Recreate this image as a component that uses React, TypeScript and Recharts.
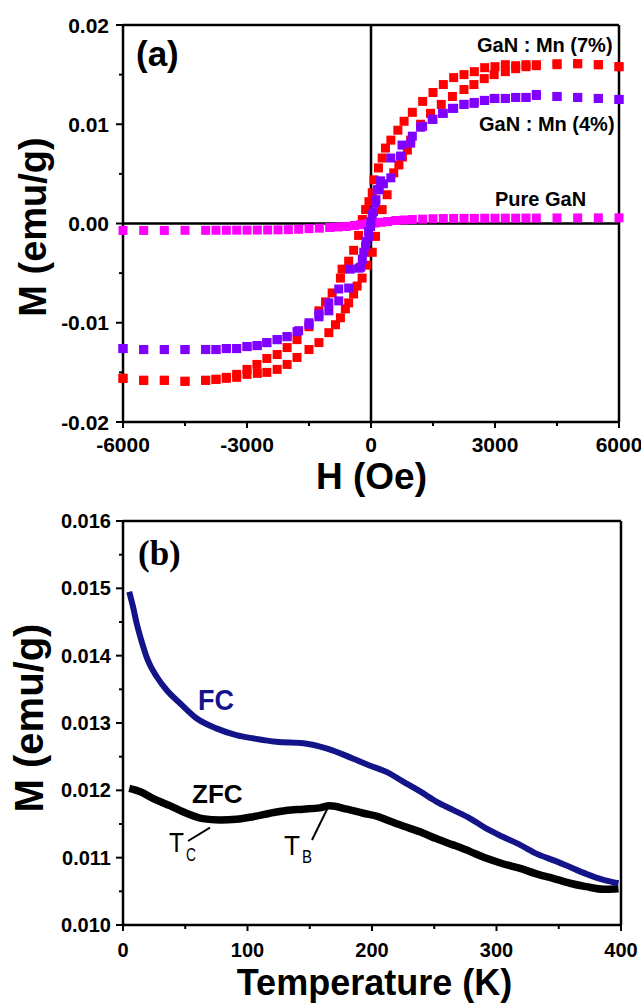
import React from 'react';
import { ScatterChart, Scatter, XAxis, YAxis, ReferenceLine, LineChart, Line } from 'recharts';

// ---------- Panel (a): M-H loops ----------
const redDescH = [6000, 5500, 5000, 4500, 4000, 3750, 3500, 3250, 3000, 2750, 2500, 2250, 2000, 1750, 1500, 1250, 1000, 800, 650, 480, 350, 270, 180, 70, 30, -50, -130, -210, -300, -420, -540, -700, -740, -940, -1100, -1260, -1500, -1790, -2030, -2270, -2520, -2760, -3000, -3250, -3500, -3750, -4000, -4500, -5000, -5500, -6000];
const redDescM = [0.0158, 0.016, 0.0161, 0.0161, 0.016, 0.016, 0.0159, 0.016, 0.0158, 0.0157, 0.0153, 0.015, 0.0147, 0.014, 0.0132, 0.0123, 0.0112, 0.0103, 0.0094, 0.0084, 0.0076, 0.0066, 0.0056, 0.0044, 0.0031, 0.0022, 0.0014, 0.0004, -0.0012, -0.0027, -0.0038, -0.0046, -0.0055, -0.007, -0.0079, -0.0088, -0.0104, -0.0117, -0.0125, -0.0132, -0.0136, -0.0142, -0.0147, -0.0152, -0.0155, -0.0157, -0.0158, -0.0159, -0.0158, -0.0158, -0.0156];
const redAscH = [-6000, -5500, -5000, -4500, -4000, -3750, -3500, -3250, -3000, -2750, -2520, -2270, -2030, -1790, -1500, -1260, -1020, -860, -740, -620, -540, -420, -335, -215, -100, 30, 110, 270, 390, 550, 675, 760, 880, 960, 1200, 1440, 1700, 1970, 2250, 2490, 2740, 2980, 3250, 3500, 3750, 4000, 4500, 5000, 5500, 6000];
const redAscM = [-0.0156, -0.0158, -0.0158, -0.0159, -0.0158, -0.0157, -0.0156, -0.0155, -0.0152, -0.0151, -0.015, -0.0147, -0.0142, -0.0135, -0.0127, -0.012, -0.011, -0.0102, -0.0095, -0.0086, -0.008, -0.0071, -0.0063, -0.0055, -0.0042, -0.0029, -0.0013, 0.0014, 0.0029, 0.0051, 0.0059, 0.0067, 0.0074, 0.0084, 0.01, 0.0111, 0.012, 0.0128, 0.0135, 0.014, 0.0146, 0.015, 0.0153, 0.0156, 0.0158, 0.0159, 0.016, 0.0161, 0.016, 0.0158];

const purDescH = [6000, 5500, 5000, 4500, 4000, 3750, 3500, 3250, 3000, 2750, 2500, 2250, 2000, 1750, 1500, 1250, 1000, 750, 480, 230, 150, 110, 30, -10, -50, -130, -210, -290, -500, -780, -1020, -1260, -1500, -1750, -2030, -2270, -2520, -2760, -3000, -3250, -3500, -3750, -4000, -4500, -5000, -5500, -6000];
const purDescM = [0.0125, 0.0126, 0.0127, 0.0128, 0.013, 0.0127, 0.0127, 0.0126, 0.0126, 0.0124, 0.0122, 0.012, 0.0116, 0.0111, 0.0105, 0.0098, 0.0088, 0.0079, 0.0066, 0.0043, 0.0034, 0.0021, 0.0009, -0.0003, -0.0013, -0.0023, -0.0036, -0.0045, -0.0046, -0.0066, -0.008, -0.0091, -0.01, -0.0108, -0.0114, -0.0117, -0.012, -0.0123, -0.0124, -0.0126, -0.0126, -0.0127, -0.0127, -0.0127, -0.0127, -0.0127, -0.0126];
const purAscH = [-6000, -5500, -5000, -4500, -4000, -3750, -3500, -3250, -3000, -2750, -2520, -2270, -2030, -1790, -1500, -1260, -1020, -780, -540, -250, -175, -120, -60, 0, 60, 120, 200, 300, 480, 715, 960, 1200, 1480, 1730, 1970, 2250, 2490, 2740, 2980, 3250, 3500, 3750, 4000, 4500, 5000, 5500, 6000];
const purAscM = [-0.0126, -0.0127, -0.0127, -0.0127, -0.0127, -0.0127, -0.0126, -0.0126, -0.0124, -0.0123, -0.012, -0.0117, -0.0114, -0.0109, -0.0102, -0.0094, -0.0088, -0.0078, -0.0065, -0.0044, -0.0029, -0.0018, -0.0008, 0.0002, 0.0012, 0.0024, 0.0034, 0.004, 0.0046, 0.0068, 0.0081, 0.0097, 0.0105, 0.0111, 0.0116, 0.012, 0.0121, 0.0124, 0.0126, 0.0126, 0.0127, 0.0127, 0.0129, 0.0128, 0.0127, 0.0126, 0.0125];

const pureH = [-6000, -5500, -5000, -4500, -4000, -3750, -3500, -3250, -3000, -2750, -2500, -2250, -2000, -1750, -1500, -1250, -1000, -800, -600, -400, -250, -100, 0, 100, 250, 400, 600, 800, 1000, 1250, 1500, 1750, 2000, 2250, 2500, 2750, 3000, 3250, 3500, 3750, 4000, 4500, 5000, 5500, 6000];
const pureM = [-0.0007, -0.0007, -0.0007, -0.00069, -0.00069, -0.00068, -0.00068, -0.00067, -0.00067, -0.00066, -0.00065, -0.00064, -0.00062, -0.00058, -0.00052, -0.00047, -0.0004, -0.00035, -0.0003, -0.0002, -0.00012, -0.00005, 0, 0.00005, 0.00012, 0.0002, 0.0003, 0.00035, 0.0004, 0.00044, 0.00048, 0.0005, 0.00051, 0.00052, 0.00052, 0.00053, 0.00053, 0.00054, 0.00054, 0.00055, 0.00055, 0.00056, 0.00056, 0.00057, 0.00057];

const aXTicks = [-6000, -4500, -3000, -1500, 0, 1500, 3000, 4500, 6000];
const aXMajor = [-6000, -3000, 0, 3000, 6000];
const aXLabels = ['-6000', '-3000', '0', '3000', '6000'];
const aYTicks = [-0.02, -0.015, -0.01, -0.005, 0, 0.005, 0.01, 0.015, 0.02];
const aYMajor = [-0.02, -0.01, 0, 0.01, 0.02];
const aYLabels = ['-0.02', '-0.01', '0.00', '0.01', '0.02'];

// ---------- Panel (b): FC / ZFC ----------
const fcT = [5, 8, 11, 15, 20, 27, 35, 46, 59, 75, 91, 105, 123, 145, 164, 185, 198, 212, 225, 239, 252, 265, 279, 292, 305, 319, 332, 346, 359, 372, 386, 398];
const fcM = [0.01495, 0.01473, 0.01448, 0.01421, 0.01393, 0.01369, 0.01349, 0.01329, 0.01307, 0.01292, 0.01282, 0.01277, 0.01272, 0.0127, 0.01262, 0.01247, 0.01237, 0.01227, 0.01213, 0.01198, 0.01183, 0.01171, 0.01158, 0.01143, 0.01131, 0.01119, 0.01106, 0.01096, 0.01086, 0.01076, 0.01067, 0.01062];
const zfcT = [5, 14, 24, 38, 51, 64, 78, 91, 105, 118, 131, 145, 158, 166, 180, 193, 205, 212, 225, 239, 252, 265, 279, 292, 305, 319, 332, 346, 359, 372, 386, 398];
const zfcM = [0.01203, 0.01198, 0.01188, 0.01177, 0.01166, 0.01158, 0.01156, 0.01157, 0.01161, 0.01166, 0.0117, 0.01172, 0.01174, 0.01177, 0.01172, 0.01166, 0.01161, 0.01156, 0.01147, 0.01138, 0.01128, 0.01119, 0.01109, 0.01099, 0.01091, 0.01084, 0.01076, 0.01069, 0.01062, 0.01057, 0.01053, 0.01054];

const bXTicks = [0, 50, 100, 150, 200, 250, 300, 350, 400];
const bXMajor = [0, 100, 200, 300, 400];
const bXLabels = ['0', '100', '200', '300', '400'];
const bYTicks = [0.01, 0.0105, 0.011, 0.0115, 0.012, 0.0125, 0.013, 0.0135, 0.014, 0.0145, 0.015, 0.0155, 0.016];
const bYMajor = [0.01, 0.011, 0.012, 0.013, 0.014, 0.015, 0.016];
const bYLabels = ['0.010', '0.011', '0.012', '0.013', '0.014', '0.015', '0.016'];

const FONT = '"Liberation Sans", Arial, sans-serif';
const FC_COLOR = '#14148a';

const pts = (h: number[], m: number[]) => h.map((H, i) => ({ H, M: m[i] }));
const tpts = (t: number[], m: number[]) => t.map((T, i) => ({ T, M: m[i] }));

const findIdx = (arr: number[], v: number) => arr.findIndex((a) => Math.abs(a - v) < 1e-9);

const makeXTick = (majors: number[], labels: string[], dy: number, fs: number) => (props: any) => {
  const { x, y, payload } = props;
  const i = findIdx(majors, payload.value);
  const major = i >= 0;
  return (
    <g>
      <line x1={x} x2={x} y1={y} y2={y + (major ? 6 : 4)} stroke="#000" strokeWidth={2} />
      {major && (
        <text x={x} y={y + dy} textAnchor="middle" fontSize={fs} fontWeight="bold" fontFamily={FONT} fill="#000">
          {labels[i]}
        </text>
      )}
    </g>
  );
};

const makeYTick = (majors: number[], labels: string[], gap: number, dy: number, fs: number) => (props: any) => {
  const { x, y, payload } = props;
  const i = findIdx(majors, payload.value);
  const major = i >= 0;
  return (
    <g>
      <line x1={x - (major ? 7 : 4)} x2={x} y1={y} y2={y} stroke="#000" strokeWidth={2} />
      {major && (
        <text x={x - gap} y={y + dy} textAnchor="end" fontSize={fs} fontWeight="bold" fontFamily={FONT} fill="#000">
          {labels[i]}
        </text>
      )}
    </g>
  );
};

const square = (color: string) => (p: any) => {
  if (p == null || p.cx == null || p.cy == null) return <g />;
  return <rect x={p.cx - 4.5} y={p.cy - 4.5} width={9} height={9} fill={color} />;
};

const frame = { stroke: '#000', strokeWidth: 2.5, ifOverflow: 'visible' as const };

export default function App() {
  return (
    <div style={{ position: 'absolute', left: 0, top: 0, width: 641, height: 1007, background: '#fff' }}>
      <div style={{ position: 'absolute', left: 0, top: 0 }}>
        <ScatterChart width={641} height={500} margin={{ top: 25, right: 22, bottom: 0, left: 0 }}>
          <XAxis
            type="number"
            dataKey="H"
            domain={[-6000, 6000]}
            ticks={aXTicks}
            interval={0}
            height={78}
            axisLine={false}
            tickLine={false}
            tickSize={0}
            tickMargin={0}
            tick={makeXTick(aXMajor, aXLabels, 30, 21)}
          />
          <YAxis
            type="number"
            dataKey="M"
            domain={[-0.02, 0.02]}
            ticks={aYTicks}
            interval={0}
            width={123}
            axisLine={false}
            tickLine={false}
            tickSize={0}
            tickMargin={0}
            tick={makeYTick(aYMajor, aYLabels, 14, 7.5, 21)}
          />
          <ReferenceLine x={0} {...frame} />
          <ReferenceLine y={0} {...frame} />
          <Scatter data={pts(redDescH, redDescM)} shape={square('#ff0000')} isAnimationActive={false} />
          <Scatter data={pts(redAscH, redAscM)} shape={square('#ff0000')} isAnimationActive={false} />
          <Scatter data={pts(pureH, pureM)} shape={square('#ff00ff')} isAnimationActive={false} />
          <Scatter data={pts(purDescH, purDescM)} shape={square('#8000ff')} isAnimationActive={false} />
          <Scatter data={pts(purAscH, purAscM)} shape={square('#8000ff')} isAnimationActive={false} />
          <ReferenceLine x={-6000} {...frame} />
          <ReferenceLine x={6000} {...frame} />
          <ReferenceLine y={-0.02} {...frame} />
          <ReferenceLine y={0.02} {...frame} />
        </ScatterChart>
      </div>
      <div style={{ position: 'absolute', left: 0, top: 500 }}>
        <LineChart width={641} height={507} margin={{ top: 21, right: 20, bottom: 0, left: 0 }}>
          <XAxis
            type="number"
            dataKey="T"
            domain={[0, 400]}
            ticks={bXTicks}
            interval={0}
            height={82}
            axisLine={false}
            tickLine={false}
            tickSize={0}
            tickMargin={0}
            tick={makeXTick(bXMajor, bXLabels, 32, 20)}
            allowDuplicatedCategory={false}
          />
          <YAxis
            type="number"
            domain={[0.01, 0.016]}
            ticks={bYTicks}
            interval={0}
            width={123}
            axisLine={false}
            tickLine={false}
            tickSize={0}
            tickMargin={0}
            tick={makeYTick(bYMajor, bYLabels, 12, 7, 20)}
          />
          <Line data={tpts(zfcT, zfcM)} dataKey="M" stroke="#000" strokeWidth={7.5} dot={false} type="monotone" isAnimationActive={false} />
          <Line data={tpts(fcT, fcM)} dataKey="M" stroke={FC_COLOR} strokeWidth={6} dot={false} type="monotone" isAnimationActive={false} />
          <ReferenceLine x={0} {...frame} />
          <ReferenceLine x={400} {...frame} />
          <ReferenceLine y={0.01} {...frame} />
          <ReferenceLine y={0.016} {...frame} />
        </LineChart>
      </div>
      <svg
        width={641}
        height={1007}
        style={{ position: 'absolute', left: 0, top: 0, pointerEvents: 'none' }}
        fontFamily={FONT}
      >
        <text x={136} y={66} fontSize={35} fontWeight="bold" fill="#000">(a)</text>
        <text x={477} y={52} fontSize={20} fontWeight="bold" fill="#000">GaN : Mn (7%)</text>
        <text x={479} y={131} fontSize={20} fontWeight="bold" fill="#000">GaN : Mn (4%)</text>
        <text x={495} y={206} fontSize={20} fontWeight="bold" fill="#000">Pure GaN</text>
        <text x={371.5} y={489} fontSize={37} fontWeight="bold" textAnchor="middle" fill="#000">H (Oe)</text>
        <text x={45.5} y={227} fontSize={38} fontWeight="bold" textAnchor="middle" fill="#000" transform="rotate(-90 45.5 227)">M (emu/g)</text>

        <text x={138} y={565} fontSize={35} fontWeight="bold" fontFamily='"Liberation Serif", "Times New Roman", serif' fill="#000">(b)</text>
        <text x={198} y={710} fontSize={29} fontWeight="bold" textLength={36} lengthAdjust="spacingAndGlyphs" fill={FC_COLOR}>FC</text>
        <text x={192} y={803} fontSize={26} fontWeight="bold" fill="#000">ZFC</text>
        <text x={169} y={852} fontSize={28} textLength={15} lengthAdjust="spacingAndGlyphs" fill="#000">T</text>
        <text x={186} y={861} fontSize={19} textLength={10} lengthAdjust="spacingAndGlyphs" fill="#000">C</text>
        <line x1={188} y1={841} x2={210} y2={827.7} stroke="#000" strokeWidth={2} />
        <text x={284} y={855} fontSize={28} textLength={16} lengthAdjust="spacingAndGlyphs" fill="#000">T</text>
        <text x={302} y={863} fontSize={19} textLength={10} lengthAdjust="spacingAndGlyphs" fill="#000">B</text>
        <line x1={312} y1={840} x2={328.3} y2={806.7} stroke="#000" strokeWidth={2} />
        <text x={374.5} y={995} fontSize={36} fontWeight="bold" textAnchor="middle" fill="#000">Temperature (K)</text>
        <text x={43} y={718} fontSize={40} fontWeight="bold" textAnchor="middle" fill="#000" transform="rotate(-90 43 718)">M (emu/g)</text>
      </svg>
    </div>
  );
}
